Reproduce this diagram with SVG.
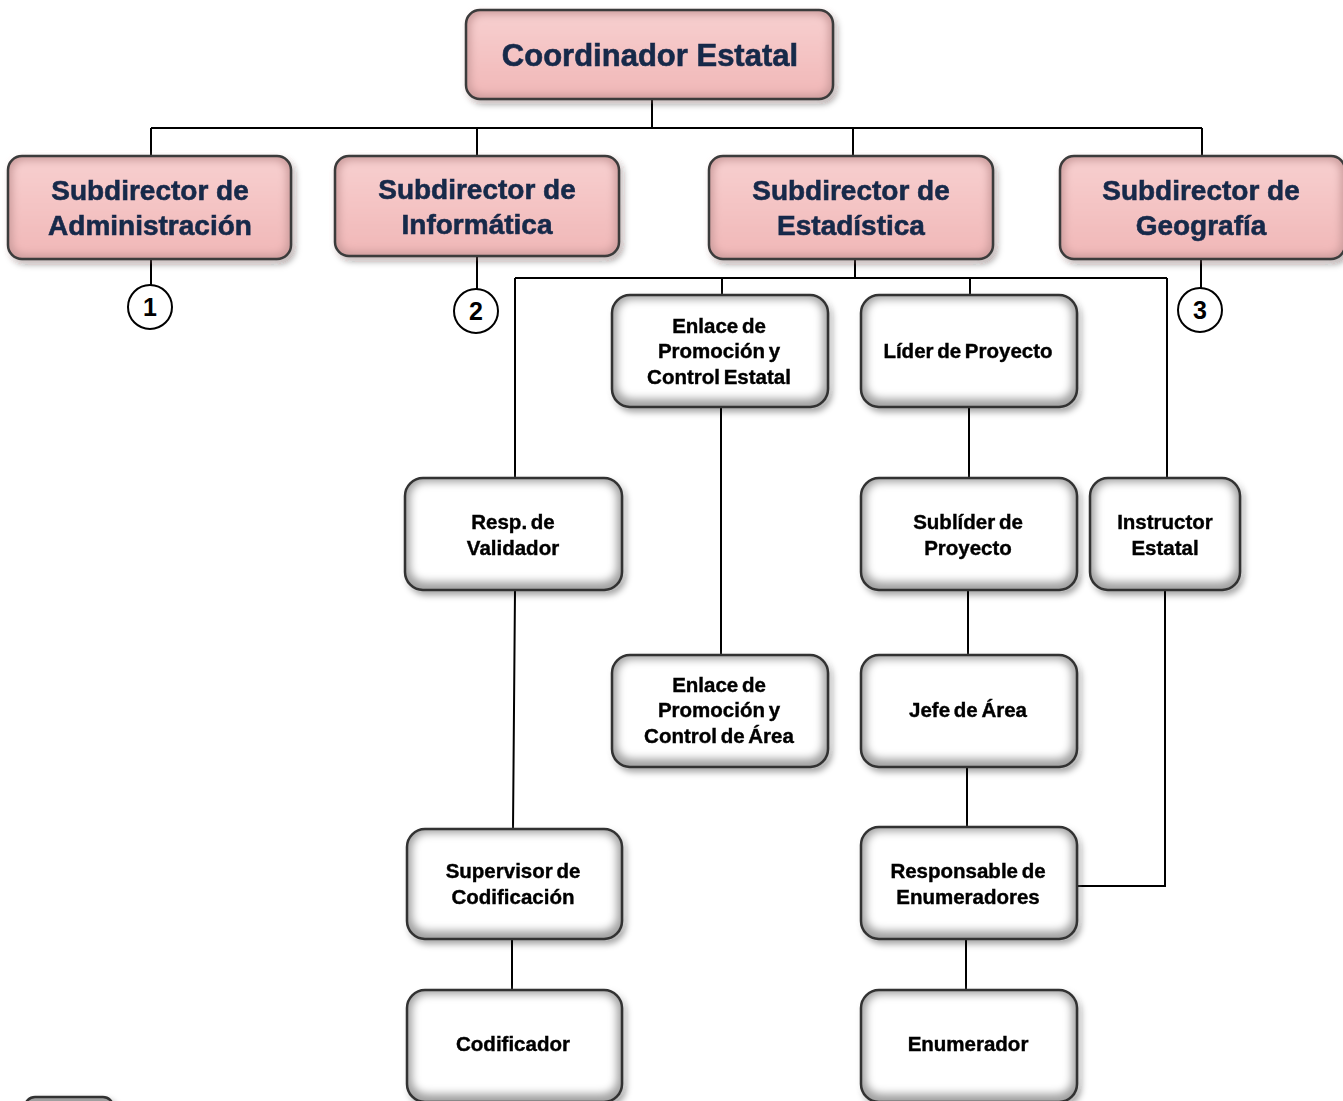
<svg xmlns="http://www.w3.org/2000/svg" width="1343" height="1101" viewBox="0 0 1343 1101">
<defs>
<filter id="sh" x="-10%" y="-10%" width="125%" height="130%">
<feDropShadow dx="3" dy="4" stdDeviation="3" flood-color="#000" flood-opacity="0.35"/>
</filter>
<filter id="soft" x="-10%" y="-10%" width="120%" height="120%">
<feGaussianBlur stdDeviation="4"/>
</filter>
<linearGradient id="pk" x1="0" y1="0" x2="0" y2="1">
<stop offset="0" stop-color="#f7cfcf"/>
<stop offset="1" stop-color="#f1b8b8"/>
</linearGradient>
</defs>
<style>
.pbase{fill:#c99a9a;}
.pin{fill:url(#pk);filter:url(#soft);}
.pedge{fill:none;stroke:#3a3a3a;stroke-width:2.5;}
.wbase{fill:#a0a0a0;}
.win{fill:#ffffff;filter:url(#soft);}
.wedge{fill:none;stroke:#333;stroke-width:2.5;}
.pt{font-family:"Liberation Sans",Arial,sans-serif;font-weight:bold;fill:#17294a;stroke:#17294a;stroke-width:0.6;text-anchor:middle;}
.wt{font-family:"Liberation Sans",Arial,sans-serif;font-weight:bold;font-size:20.5px;fill:#000;stroke:#000;stroke-width:0.4;word-spacing:-2px;text-anchor:middle;}
.ln{fill:none;stroke:#000;stroke-width:2;}
.cc{fill:#fff;stroke:#000;stroke-width:2;}
.ct{font-family:"Liberation Sans",Arial,sans-serif;font-weight:bold;font-size:25px;fill:#000;text-anchor:middle;}
</style>
<rect width="1343" height="1101" fill="#fff"/>
<g id="connectors">
<path class="ln" d="M652 99 V128 M151 128 H1202 M151 128 V156 M477 128 V156 M853 128 V156 M1202 128 V156"/>
<path class="ln" d="M151 259 V285 M477 256 V289 M1201 259 V288"/>
<path class="ln" d="M855 259 V278 M515 278 H1167 M515 278 V478 M722 278 V295 M970 278 V295 M1167 278 V478"/>
<path class="ln" d="M721 407 V655 M969 407 V478 M968 590 V655 M967 767 V827 M966 939 V990"/>
<path class="ln" d="M515 590 L513 829 M512 939 V990"/>
<path class="ln" d="M1165 590 V886 H1077"/>
</g>
<g id="n-coord" filter="url(#sh)">
<rect class="pbase" x="466" y="10" width="367" height="89" rx="14"/>
<rect class="pin" x="470" y="14" width="359" height="81" rx="12"/>
<rect class="pedge" x="466" y="10" width="367" height="89" rx="14"/>
<text class="pt" x="650" y="66" font-size="31">Coordinador Estatal</text>
</g>
<g id="n-admin" filter="url(#sh)">
<rect class="pbase" x="8" y="156" width="283" height="103" rx="14"/>
<rect class="pin" x="12" y="160" width="275" height="95" rx="12"/>
<rect class="pedge" x="8" y="156" width="283" height="103" rx="14"/>
<text class="pt" x="150" y="200" font-size="28">Subdirector de</text>
<text class="pt" x="150" y="235" font-size="28">Administración</text>
</g>
<g id="n-info" filter="url(#sh)">
<rect class="pbase" x="335" y="156" width="284" height="100" rx="14"/>
<rect class="pin" x="339" y="160" width="276" height="92" rx="12"/>
<rect class="pedge" x="335" y="156" width="284" height="100" rx="14"/>
<text class="pt" x="477" y="199" font-size="28">Subdirector de</text>
<text class="pt" x="477" y="234" font-size="28">Informática</text>
</g>
<g id="n-estad" filter="url(#sh)">
<rect class="pbase" x="709" y="156" width="284" height="103" rx="14"/>
<rect class="pin" x="713" y="160" width="276" height="95" rx="12"/>
<rect class="pedge" x="709" y="156" width="284" height="103" rx="14"/>
<text class="pt" x="851" y="200" font-size="28">Subdirector de</text>
<text class="pt" x="851" y="235" font-size="28">Estadística</text>
</g>
<g id="n-geo" filter="url(#sh)">
<rect class="pbase" x="1060" y="156" width="285" height="103" rx="14"/>
<rect class="pin" x="1064" y="160" width="277" height="95" rx="12"/>
<rect class="pedge" x="1060" y="156" width="285" height="103" rx="14"/>
<text class="pt" x="1201" y="200" font-size="28">Subdirector de</text>
<text class="pt" x="1201" y="235" font-size="28">Geografía</text>
</g>
<g id="c1"><circle class="cc" cx="150" cy="307" r="22"/><text class="ct" x="150" y="316">1</text></g>
<g id="c2"><circle class="cc" cx="476" cy="311" r="22"/><text class="ct" x="476" y="320">2</text></g>
<g id="c3"><circle class="cc" cx="1200" cy="310" r="22"/><text class="ct" x="1200" y="319">3</text></g>
<g id="n-enlace-est" filter="url(#sh)">
<rect class="wbase" x="612" y="295" width="216" height="112" rx="18"/>
<rect class="win" x="617" y="299" width="206" height="100" rx="15"/>
<rect class="wedge" x="612" y="295" width="216" height="112" rx="18"/>
<text class="wt" x="719" y="333">Enlace de</text>
<text class="wt" x="719" y="358">Promoción y</text>
<text class="wt" x="719" y="384">Control Estatal</text>
</g>
<g id="n-lider" filter="url(#sh)">
<rect class="wbase" x="861" y="295" width="216" height="112" rx="18"/>
<rect class="win" x="866" y="299" width="206" height="100" rx="15"/>
<rect class="wedge" x="861" y="295" width="216" height="112" rx="18"/>
<text class="wt" x="968" y="358">Líder de Proyecto</text>
</g>
<g id="n-resp-val" filter="url(#sh)">
<rect class="wbase" x="405" y="478" width="217" height="112" rx="18"/>
<rect class="win" x="410" y="482" width="207" height="100" rx="15"/>
<rect class="wedge" x="405" y="478" width="217" height="112" rx="18"/>
<text class="wt" x="513" y="529">Resp. de</text>
<text class="wt" x="513" y="555">Validador</text>
</g>
<g id="n-sublider" filter="url(#sh)">
<rect class="wbase" x="861" y="478" width="216" height="112" rx="18"/>
<rect class="win" x="866" y="482" width="206" height="100" rx="15"/>
<rect class="wedge" x="861" y="478" width="216" height="112" rx="18"/>
<text class="wt" x="968" y="529">Sublíder de</text>
<text class="wt" x="968" y="555">Proyecto</text>
</g>
<g id="n-instructor" filter="url(#sh)">
<rect class="wbase" x="1090" y="478" width="150" height="112" rx="18"/>
<rect class="win" x="1095" y="482" width="140" height="100" rx="15"/>
<rect class="wedge" x="1090" y="478" width="150" height="112" rx="18"/>
<text class="wt" x="1165" y="529">Instructor</text>
<text class="wt" x="1165" y="555">Estatal</text>
</g>
<g id="n-enlace-area" filter="url(#sh)">
<rect class="wbase" x="612" y="655" width="216" height="112" rx="18"/>
<rect class="win" x="617" y="659" width="206" height="100" rx="15"/>
<rect class="wedge" x="612" y="655" width="216" height="112" rx="18"/>
<text class="wt" x="719" y="692">Enlace de</text>
<text class="wt" x="719" y="717">Promoción y</text>
<text class="wt" x="719" y="743">Control de Área</text>
</g>
<g id="n-jefe" filter="url(#sh)">
<rect class="wbase" x="861" y="655" width="216" height="112" rx="18"/>
<rect class="win" x="866" y="659" width="206" height="100" rx="15"/>
<rect class="wedge" x="861" y="655" width="216" height="112" rx="18"/>
<text class="wt" x="968" y="717">Jefe de Área</text>
</g>
<g id="n-supervisor" filter="url(#sh)">
<rect class="wbase" x="407" y="829" width="215" height="110" rx="18"/>
<rect class="win" x="412" y="833" width="205" height="98" rx="15"/>
<rect class="wedge" x="407" y="829" width="215" height="110" rx="18"/>
<text class="wt" x="513" y="878">Supervisor de</text>
<text class="wt" x="513" y="904">Codificación</text>
</g>
<g id="n-responsable" filter="url(#sh)">
<rect class="wbase" x="861" y="827" width="216" height="112" rx="18"/>
<rect class="win" x="866" y="831" width="206" height="100" rx="15"/>
<rect class="wedge" x="861" y="827" width="216" height="112" rx="18"/>
<text class="wt" x="968" y="878">Responsable de</text>
<text class="wt" x="968" y="904">Enumeradores</text>
</g>
<g id="n-codificador" filter="url(#sh)">
<rect class="wbase" x="407" y="990" width="215" height="112" rx="18"/>
<rect class="win" x="412" y="994" width="205" height="100" rx="15"/>
<rect class="wedge" x="407" y="990" width="215" height="112" rx="18"/>
<text class="wt" x="513" y="1051">Codificador</text>
</g>
<g id="n-enumerador" filter="url(#sh)">
<rect class="wbase" x="861" y="990" width="216" height="112" rx="18"/>
<rect class="win" x="866" y="994" width="206" height="100" rx="15"/>
<rect class="wedge" x="861" y="990" width="216" height="112" rx="18"/>
<text class="wt" x="968" y="1051">Enumerador</text>
</g>
<g id="n-partial" filter="url(#sh)">
<rect class="wbase" x="25" y="1097" width="88" height="40" rx="10"/>
<rect class="wedge" x="25" y="1097" width="88" height="40" rx="10"/>
</g>
</svg>
